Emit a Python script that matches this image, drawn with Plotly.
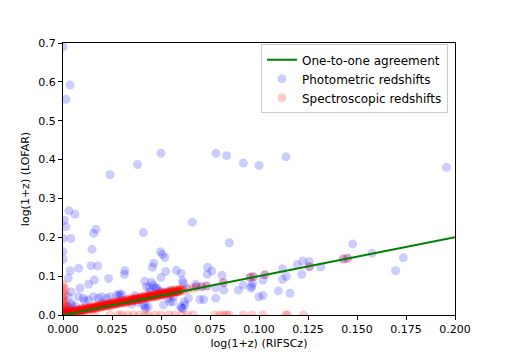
import plotly.graph_objects as go

# ---------------- data ----------------
line_x = [0.0, 0.2]
line_y = [0.0, 0.2]

phot_x = [
    0.000, 0.0036, 0.0015, 0.024, 0.038, 0.050, 0.078, 0.0835, 0.092, 0.100, 0.1138, 0.1957,
    0.003, 0.0061, 0.0007, 0.0014, 0.004, 0.000, 0.0168, 0.0156, 0.041, 0.0148, 0.000, 0.000,
    0.0497, 0.0507, 0.052, 0.0037, 0.008, 0.0143, 0.0177, 0.0316, 0.0313, 0.0463, 0.0456, 0.0524,
    0.0578, 0.0027, 0.0233, 0.016, 0.0131, 0.050, 0.0418, 0.0452, 0.061, 0.0603,
    0.066, 0.0849, 0.0738, 0.0759, 0.0736, 0.0811, 0.0677, 0.0779, 0.0821, 0.0895, 0.092, 0.0959,
    0.0968, 0.102, 0.100, 0.102, 0.1099, 0.1158, 0.112, 0.114, 0.112, 0.1195, 0.1223, 0.1218,
    0.0699, 0.0718, 0.0779, 0.060, 0.0619, 0.1478, 0.1257, 0.1316, 0.1577, 0.1736, 0.1697, 0.0963,
    0.0027, 0.0041, 0.0078, 0.0087, 0.0104, 0.0129, 0.0155, 0.018, 0.0197, 0.0223, 0.024, 0.0274,
    0.030, 0.0041, 0.0426, 0.046, 0.0478, 0.0444, 0.0503, 0.0546, 0.0614, 0.0631, 0.064, 0.041,
    0.0435, 0.0512, 0.0546, 0.0612, 0.0622, 0.0563, 0.047, 0.044, 0.0486, 0.0287, 0.029, 0.0367,
    0.042, 0.042, 0.0605, 0.0044, 0.0027, 0.0537, 0.056, 0.0110, 0.0065, 0.0200, 0.0350, 0.0380,
    0.068, 0.0708, 0.0733, 0.0818, 0.0954, 0.0971, 0.103, 0.1257, 0.143, 0.1452
]
phot_y = [
    0.690, 0.592, 0.555, 0.361, 0.387, 0.416, 0.416, 0.410, 0.391, 0.385, 0.407, 0.380,
    0.268, 0.259, 0.244, 0.227, 0.197, 0.197, 0.221, 0.210, 0.212, 0.169, 0.163, 0.143,
    0.163, 0.156, 0.148, 0.114, 0.120, 0.127, 0.126, 0.114, 0.105, 0.133, 0.123, 0.112,
    0.115, 0.095, 0.094, 0.090, 0.079, 0.097, 0.087, 0.084, 0.088, 0.107,
    0.239, 0.186, 0.123, 0.113, 0.105, 0.102, 0.079, 0.070, 0.064, 0.064, 0.077, 0.069,
    0.082, 0.090, 0.047, 0.050, 0.062, 0.056, 0.119, 0.099, 0.092, 0.129, 0.139, 0.105,
    0.040, 0.040, 0.043, 0.021, 0.034, 0.183, 0.137, 0.1235, 0.159, 0.1475, 0.114, 0.074,
    0.047, 0.060, 0.047, 0.069, 0.043, 0.039, 0.047, 0.043, 0.047, 0.043, 0.047, 0.051,
    0.053, 0.030, 0.073, 0.077, 0.069, 0.060, 0.060, 0.064, 0.082, 0.069, 0.043, 0.026,
    0.021, 0.026, 0.034, 0.017, 0.026, 0.047, 0.071, 0.070, 0.064, 0.055, 0.049, 0.050,
    0.023, 0.017, 0.017, 0.026, 0.021, 0.043, 0.034, 0.036, 0.022, 0.031, 0.028, 0.033,
    0.073, 0.073, 0.0746, 0.083, 0.097, 0.0986, 0.1037, 0.1243, 0.144, 0.146
]

spec_x = [
    # dense band along the one-to-one line
    0.0000, 0.0004, 0.0008, 0.0011, 0.0015, 0.0019, 0.0023, 0.0027, 0.0031, 0.0034,
    0.0038, 0.0042, 0.0046, 0.0050, 0.0054, 0.0057, 0.0061, 0.0065, 0.0069, 0.0073,
    0.0077, 0.0080, 0.0084, 0.0088, 0.0092, 0.0096, 0.0100, 0.0103, 0.0107, 0.0111,
    0.0115, 0.0119, 0.0123, 0.0126, 0.0130, 0.0134, 0.0138, 0.0142, 0.0146, 0.0149,
    0.0153, 0.0157, 0.0161, 0.0165, 0.0169, 0.0172, 0.0176, 0.0180, 0.0184, 0.0188,
    0.0192, 0.0195, 0.0199, 0.0203, 0.0207, 0.0211, 0.0215, 0.0218, 0.0222, 0.0226,
    0.0230, 0.0234, 0.0238, 0.0241, 0.0245, 0.0249, 0.0253, 0.0257, 0.0261, 0.0264,
    0.0268, 0.0272, 0.0276, 0.0280, 0.0284, 0.0287, 0.0291, 0.0295, 0.0299, 0.0303,
    0.0307, 0.0310, 0.0314, 0.0318, 0.0322, 0.0326, 0.0330, 0.0333, 0.0337, 0.0341,
    0.0345, 0.0349, 0.0353, 0.0356, 0.0360, 0.0364, 0.0368, 0.0372, 0.0376, 0.0379,
    0.0383, 0.0387, 0.0391, 0.0395, 0.0399, 0.0402, 0.0406, 0.0410, 0.0414, 0.0418,
    0.0422, 0.0425, 0.0429, 0.0433, 0.0437, 0.0441, 0.0445, 0.0448, 0.0452, 0.0456,
    0.0460, 0.0464, 0.0468, 0.0471, 0.0475, 0.0479, 0.0483, 0.0487, 0.0491, 0.0494,
    0.0498, 0.0502, 0.0506, 0.0510, 0.0514, 0.0517, 0.0521, 0.0525, 0.0529, 0.0533,
    0.0537, 0.0540, 0.0544, 0.0548, 0.0552, 0.0556, 0.0560, 0.0563, 0.0567, 0.0571,
    0.0575, 0.0579, 0.0583, 0.0586, 0.0590, 0.0594, 0.0598,
    0.0002, 0.0010, 0.0018, 0.0026, 0.0033, 0.0041, 0.0049, 0.0057, 0.0064, 0.0072,
    0.0080, 0.0088, 0.0095, 0.0103, 0.0111, 0.0119, 0.0126, 0.0134, 0.0142, 0.0150,
    0.0157, 0.0165, 0.0173, 0.0181, 0.0188, 0.0196, 0.0204, 0.0212, 0.0219, 0.0227,
    0.0235, 0.0243, 0.0250, 0.0258, 0.0266, 0.0274, 0.0281, 0.0289, 0.0297, 0.0305,
    0.0312, 0.0320, 0.0328, 0.0336, 0.0343, 0.0351, 0.0359, 0.0367, 0.0374, 0.0382,
    0.0390, 0.0398, 0.0405, 0.0413, 0.0421, 0.0429, 0.0436, 0.0444, 0.0452, 0.0460,
    0.0467, 0.0475, 0.0483, 0.0491, 0.0498, 0.0506, 0.0514, 0.0522, 0.0529, 0.0537,
    0.0545, 0.0553, 0.0560, 0.0568, 0.0576, 0.0584, 0.0591, 0.0599, 0.0607, 0.0614,
    # cluster near the origin
    0.0005, 0.0010, 0.0020, 0.0000, 0.0030, 0.0010, 0.0000, 0.0020,
    # sparse points on the line
    0.0605, 0.0640, 0.0665, 0.0680, 0.0708, 0.0733, 0.0818, 0.0954, 0.0971, 0.1030,
    0.1257, 0.1430, 0.1452,
    # points at LOFAR z ~ 0
    0.0010, 0.0030, 0.0060, 0.0095, 0.0160, 0.0240, 0.0282, 0.0300, 0.0330, 0.0360,
    0.0390, 0.0420, 0.0435, 0.0470, 0.0500, 0.0540, 0.0570, 0.0605, 0.0635, 0.0665,
    0.0776, 0.0801, 0.0818, 0.0835, 0.0849, 0.0920, 0.0963, 0.1019, 0.1136, 0.1145,
    0.1226,
    # points at RIFSCz z ~ 0
    0.0005, 0.0010, 0.0000, 0.0005, 0.0010, 0.0000, 0.0005, 0.0000, 0.0010, 0.0020,
    0.0000, 0.0010
]
spec_y = [
    0.0030, 0.0014, 0.0058, 0.0031, 0.0055, 0.0019, 0.0083, 0.0057, 0.0051, 0.0074,
    0.0068, 0.0052, 0.0096, 0.0070, 0.0094, 0.0057, 0.0121, 0.0095, 0.0089, 0.0113,
    0.0107, 0.0090, 0.0134, 0.0108, 0.0132, 0.0096, 0.0160, 0.0133, 0.0127, 0.0151,
    0.0145, 0.0129, 0.0173, 0.0146, 0.0170, 0.0134, 0.0198, 0.0172, 0.0166, 0.0189,
    0.0183, 0.0167, 0.0211, 0.0185, 0.0209, 0.0172, 0.0236, 0.0210, 0.0204, 0.0228,
    0.0222, 0.0205, 0.0249, 0.0223, 0.0247, 0.0211, 0.0275, 0.0248, 0.0242, 0.0266,
    0.0260, 0.0244, 0.0288, 0.0261, 0.0285, 0.0249, 0.0313, 0.0287, 0.0281, 0.0304,
    0.0298, 0.0282, 0.0326, 0.0300, 0.0324, 0.0287, 0.0351, 0.0325, 0.0319, 0.0343,
    0.0337, 0.0320, 0.0364, 0.0338, 0.0362, 0.0326, 0.0390, 0.0363, 0.0357, 0.0381,
    0.0375, 0.0359, 0.0403, 0.0376, 0.0400, 0.0364, 0.0428, 0.0402, 0.0396, 0.0419,
    0.0413, 0.0397, 0.0441, 0.0415, 0.0439, 0.0402, 0.0466, 0.0440, 0.0434, 0.0458,
    0.0452, 0.0435, 0.0479, 0.0453, 0.0477, 0.0441, 0.0505, 0.0478, 0.0472, 0.0496,
    0.0490, 0.0474, 0.0518, 0.0491, 0.0515, 0.0479, 0.0543, 0.0517, 0.0511, 0.0534,
    0.0528, 0.0512, 0.0556, 0.0530, 0.0554, 0.0517, 0.0581, 0.0555, 0.0549, 0.0573,
    0.0567, 0.0550, 0.0594, 0.0568, 0.0592, 0.0556, 0.0620, 0.0593, 0.0587, 0.0611,
    0.0605, 0.0589, 0.0633, 0.0606, 0.0630, 0.0594, 0.0658,
    0.0062, 0.0010, 0.0088, 0.0046, 0.0113, 0.0051, 0.0099, 0.0097, 0.0134, 0.0082,
    0.0140, 0.0088, 0.0165, 0.0123, 0.0191, 0.0129, 0.0176, 0.0174, 0.0212, 0.0160,
    0.0217, 0.0165, 0.0243, 0.0201, 0.0268, 0.0206, 0.0254, 0.0252, 0.0289, 0.0237,
    0.0295, 0.0243, 0.0320, 0.0278, 0.0346, 0.0284, 0.0331, 0.0329, 0.0367, 0.0315,
    0.0372, 0.0320, 0.0398, 0.0356, 0.0423, 0.0361, 0.0409, 0.0407, 0.0444, 0.0392,
    0.0450, 0.0398, 0.0475, 0.0433, 0.0501, 0.0439, 0.0486, 0.0484, 0.0522, 0.0470,
    0.0527, 0.0475, 0.0553, 0.0511, 0.0578, 0.0516, 0.0564, 0.0562, 0.0599, 0.0547,
    0.0605, 0.0553, 0.0630, 0.0588, 0.0656, 0.0594, 0.0641, 0.0639, 0.0677, 0.0624,
    0.0050, 0.0120, 0.0080, 0.0180, 0.0150, 0.0250, 0.0350, 0.0030,
    0.0640, 0.0660, 0.0687, 0.0730, 0.0730, 0.0746, 0.0830, 0.0970, 0.0986, 0.1037,
    0.1243, 0.1440, 0.1460,
    0.0000, 0.0000, 0.0000, 0.0000, 0.0000, 0.0000, 0.0000, 0.0000, 0.0000, 0.0000,
    0.0000, 0.0000, 0.0000, 0.0000, 0.0000, 0.0000, 0.0000, 0.0000, 0.0000, 0.0000,
    0.0000, 0.0000, 0.0000, 0.0000, 0.0000, 0.0000, 0.0000, 0.0000, 0.0000, 0.0000,
    0.0000,
    0.0100, 0.0200, 0.0300, 0.0400, 0.0500, 0.0600, 0.0700, 0.0800, 0.0150, 0.0250,
    0.0450, 0.0650
]

x_ticks = [0.0, 0.025, 0.05, 0.075, 0.1, 0.125, 0.15, 0.175, 0.2]
x_tick_text = ["0.000", "0.025", "0.050", "0.075", "0.100", "0.125", "0.150", "0.175", "0.200"]
y_ticks = [0.0, 0.1, 0.2, 0.3, 0.4, 0.5, 0.6, 0.7]
y_tick_text = ["0.0", "0.1", "0.2", "0.3", "0.4", "0.5", "0.6", "0.7"]

# ---------------- figure ----------------
FONT = "DejaVu Sans, Liberation Sans, sans-serif"
BLUE = "rgba(0,0,255,0.2)"
RED = "rgba(255,0,0,0.2)"

fig = go.Figure()
fig.add_trace(go.Scatter(
    x=phot_x, y=phot_y, mode="markers", name="Photometric redshifts",
    marker=dict(color=BLUE, size=9, line=dict(width=0)), legendrank=2, cliponaxis=True))
fig.add_trace(go.Scatter(
    x=spec_x, y=spec_y, mode="markers", name="Spectroscopic redshifts",
    marker=dict(color=RED, size=9, line=dict(width=0)), legendrank=3, cliponaxis=True))
fig.add_trace(go.Scatter(
    x=line_x, y=line_y, mode="lines", name="One-to-one agreement",
    line=dict(color="#008000", width=2), legendrank=1))

axis_common = dict(
    showgrid=False, zeroline=False, showline=True, linecolor="black", linewidth=1,
    mirror=True, ticks="outside", ticklen=4, tickwidth=1, tickcolor="black",
    automargin=False,
    tickfont=dict(family=FONT, size=11, color="black"),
    title_font=dict(family=FONT, size=11, color="black"))

fig.update_xaxes(range=[0, 0.2], tickvals=x_ticks, ticktext=x_tick_text,
                 title=dict(text="log(1+z) (RIFSCz)", standoff=4), **axis_common)
fig.update_yaxes(range=[0, 0.7], tickvals=y_ticks, ticktext=y_tick_text,
                 title=dict(text="log(1+z) (LOFAR)", standoff=6), **axis_common)

fig.update_layout(
    width=505, height=360,
    margin=dict(l=55, r=58, t=35, b=53),
    paper_bgcolor="white", plot_bgcolor="white",
    font=dict(family=FONT, size=11, color="black"),
    showlegend=True,
    legend=dict(x=0.982, y=0.995, xanchor="right", yanchor="top",
                bgcolor="rgba(255,255,255,0.8)", bordercolor="#cccccc", borderwidth=1,
                font=dict(family=FONT, size=12, color="black"),
                itemwidth=30, tracegroupgap=0),
)

fig.write_html("out.html")
